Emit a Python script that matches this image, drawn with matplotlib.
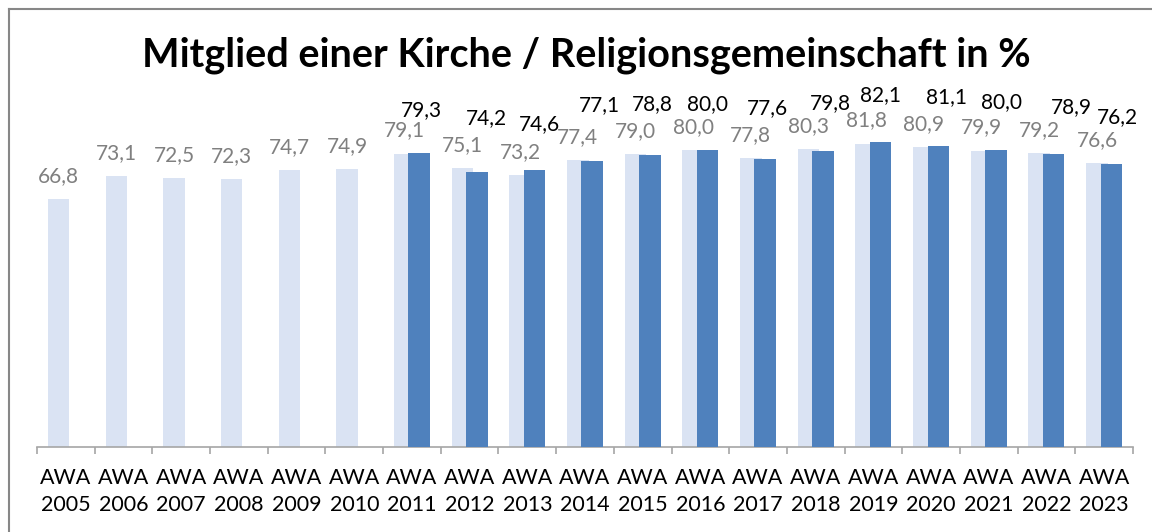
import numpy as np
import matplotlib.pyplot as plt
from matplotlib.lines import Line2D

# Data
years = ['2005', '2006', '2007', '2008', '2009', '2010', '2011', '2012', '2013', '2014',
         '2015', '2016', '2017', '2018', '2019', '2020', '2021', '2022', '2023']
light_vals = [66.8, 73.1, 72.5, 72.3, 74.7, 74.9, 79.1, 75.1, 73.2, 77.4,
              79.0, 80.0, 77.8, 80.3, 81.8, 80.9, 79.9, 79.2, 76.6]
dark_years = years[6:]
dark_vals = [79.3, 74.2, 74.6, 77.1, 78.8, 80.0, 77.6, 79.8, 82.1, 81.1, 80.0, 78.9, 76.2]

# label offsets of the dark series (pixels, as placed in the original)
dark_lbl_dx = [2, 10, 5, 7, 2, 0, 2, 7, 0, 8, 5, 18, 6]
dark_lbl_dy = [43, 54, 46, 56, 51, 46, 51, 48, 47, 49, 48, 47, 47]

plt.rcParams['font.family'] = ['Lato', 'DejaVu Sans']

fig = plt.figure(figsize=(11.52, 5.32), dpi=100)
ax = fig.add_axes([37/1152, 85/532, 1096/1152, 371/532])

x = np.arange(len(years))
xd = np.array([years.index(y) for y in dark_years])
w = 0.375
off = 0.125

ax.bar(x - off, light_vals, w, color='#DAE3F3', zorder=2)
ax.bar(xd + off, dark_vals, w, color='#4F81BD', zorder=3)

for xi, v in zip(x, light_vals):
    ax.annotate(f'{v:.1f}'.replace('.', ','), (xi - off, v), xytext=(0, 23),
                textcoords='offset pixels', ha='center', va='center',
                fontsize=15, color='#808080')
for xi, v, dx, dy in zip(xd, dark_vals, dark_lbl_dx, dark_lbl_dy):
    ax.annotate(f'{v:.1f}'.replace('.', ','), (xi + off, v), xytext=(dx, dy),
                textcoords='offset pixels', ha='center', va='center',
                fontsize=15, color='black')

ax.set_xlim(-0.5, len(years) - 0.5)
ax.set_ylim(0, 100)
ax.set_yticks([])
for s in ['top', 'right', 'left']:
    ax.spines[s].set_visible(False)
ax.spines['bottom'].set_color('#A6A6A6')
ax.spines['bottom'].set_linewidth(1.2)

ax.set_xticks(x)
ax.set_xticklabels(['AWA\n' + y for y in years], fontsize=15.5, linespacing=1.45)
ax.tick_params(axis='x', which='major', length=0, pad=15)
ax.set_xticks(np.arange(-0.5, len(years)), minor=True)
ax.tick_params(axis='x', which='minor', length=5, width=1.2, color='#A6A6A6')

fig.text(586/1152, 1 - 55/532, 'Mitglied einer Kirche / Religionsgemeinschaft in %',
         ha='center', va='center', fontsize=28.5, fontweight='bold')

# outer frame (left and top edges visible)
fig.add_artist(Line2D([8.5/1152, 8.5/1152], [0, 1 - 8.5/532], transform=fig.transFigure,
                      color='#878787', lw=1.5))
fig.add_artist(Line2D([8.5/1152, 1], [1 - 8.5/532, 1 - 8.5/532], transform=fig.transFigure,
                      color='#878787', lw=1.5))

plt.savefig('out.png', dpi=100)
